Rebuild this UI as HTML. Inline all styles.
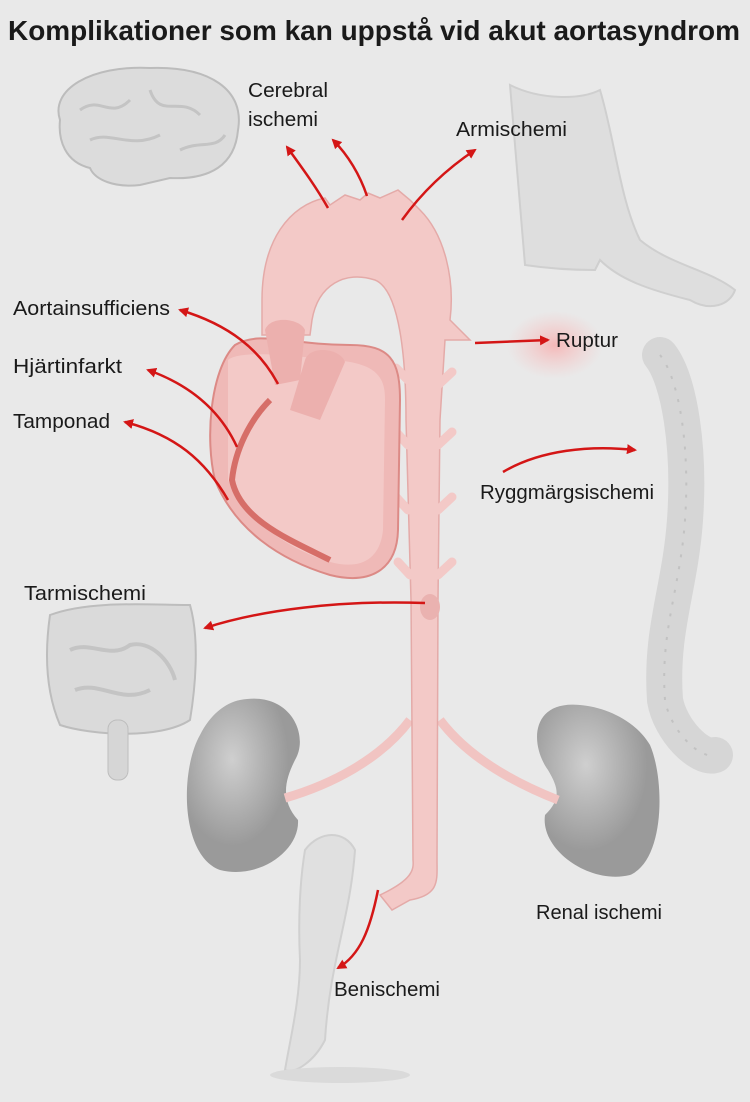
<!DOCTYPE html>
<html><head><meta charset="utf-8"><style>
html,body{margin:0;padding:0;background:#e9e9e9;}
svg{display:block}
text{font-family:"Liberation Sans",sans-serif;fill:#1a1a1a}
</style></head><body>
<svg width="750" height="1102" viewBox="0 0 750 1102" xmlns="http://www.w3.org/2000/svg">
<defs>
<marker id="a" markerWidth="10" markerHeight="10" refX="8" refY="5" orient="auto" markerUnits="userSpaceOnUse">
<path d="M0,0 L10,5 L0,10 Z" fill="#d41616"/></marker>
<radialGradient id="r"><stop offset="0" stop-color="#f5b8b8"/><stop offset="1" stop-color="#f5c8c8" stop-opacity="0"/></radialGradient>
<radialGradient id="k" cx="0.4" cy="0.35"><stop offset="0" stop-color="#cfcfcf"/><stop offset="1" stop-color="#9a9a9a"/></radialGradient>
</defs>
<rect width="750" height="1102" fill="#e9e9e9"/>
<text x="8" y="40" font-size="28" font-weight="bold" textLength="732" lengthAdjust="spacingAndGlyphs">Komplikationer som kan uppstå vid akut aortasyndrom</text>

<path d="M60,120 C50,90 90,65 150,68 C210,66 245,90 238,130 C235,165 210,180 170,178 L140,185 C115,188 95,180 90,168 C65,162 58,140 60,120Z" fill="#dcdcdc" stroke="#bcbcbc" stroke-width="2"/>
<path d="M80,110 C100,95 110,120 130,100 M150,90 C160,120 180,95 200,115 M90,140 C110,130 130,150 160,135 M180,150 C200,140 215,150 225,135" stroke="#c4c4c4" stroke-width="3" fill="none"/>
<path d="M510,85 C540,100 580,100 600,90 C615,140 620,200 640,240 C670,265 710,270 735,290 C730,305 710,312 690,300 C650,290 620,280 600,260 L595,270 C570,270 545,268 525,265 Z" fill="#dedede" stroke="#cfcfcf" stroke-width="2"/>
<path d="M660,355 C680,380 690,450 685,520 C680,590 660,630 665,700 C670,730 700,760 715,755" stroke="#d6d6d6" stroke-width="36" fill="none" stroke-linecap="round"/>
<path d="M660,355 C680,380 690,450 685,520 C680,590 660,630 665,700 C670,730 700,760 715,755" stroke="#c2c2c2" stroke-width="2" stroke-dasharray="3 9" fill="none"/>
<path d="M50,615 C90,600 150,605 190,605 C200,640 195,690 190,720 C160,740 90,735 60,725 C45,690 45,650 50,615Z" fill="#dadada" stroke="#bdbdbd" stroke-width="2"/>
<path d="M70,650 C90,640 110,660 130,645 C150,640 170,660 175,680 M75,690 C100,680 120,705 150,690" stroke="#c4c4c4" stroke-width="4" fill="none"/>
<rect x="108" y="720" width="20" height="60" rx="9" fill="#d6d6d6" stroke="#bdbdbd"/>
<path d="M305,850 C320,830 345,830 355,850 C350,920 330,960 325,1040 C315,1060 295,1075 285,1070 C290,1040 300,1000 300,960 C298,920 300,880 305,850Z" fill="#e0e0e0" stroke="#d0d0d0" stroke-width="2"/>
<ellipse cx="340" cy="1075" rx="70" ry="8" fill="#dadada"/>
<path d="M240,700 C290,690 310,735 295,760 C285,780 280,800 298,820 C300,850 260,880 220,870 C180,855 180,770 200,735 C210,715 225,703 240,700Z" fill="url(#k)"/>
<path d="M580,705 C530,700 530,745 548,770 C560,790 560,800 545,815 C540,850 590,885 630,875 C665,860 665,780 650,745 C635,720 605,707 580,705Z" fill="url(#k)"/>
<path d="M410,720 C380,760 330,785 285,798" stroke="#f1c4c2" stroke-width="9" fill="none"/>
<path d="M440,720 C470,760 520,785 558,800" stroke="#f1c4c2" stroke-width="9" fill="none"/>
<ellipse cx="555" cy="345" rx="48" ry="34" fill="url(#r)"/>
<path d="M262,335 L262,300 C262,240 290,205 325,198 L330,205 L345,195 L360,200 L368,193 L380,198 L398,190 L410,200 L420,210 C445,235 455,280 450,320 L470,340 L445,340 L440,420 L438,600 L437,860 C437,880 440,895 410,900 L392,910 L380,895 C412,880 414,870 413,860 L411,600 L406,420 C406,360 400,290 375,280 C345,270 318,285 312,320 L310,335 Z" fill="#f3c9c7" stroke="#e4aaa8" stroke-width="1.5"/>
<g stroke="#f3c9c7" stroke-width="9" stroke-linecap="round">
<line x1="408" y1="380" x2="396" y2="368"/><line x1="438" y1="385" x2="452" y2="372"/>
<line x1="408" y1="445" x2="396" y2="432"/><line x1="438" y1="445" x2="452" y2="432"/>
<line x1="408" y1="510" x2="396" y2="497"/><line x1="438" y1="510" x2="452" y2="497"/>
<line x1="410" y1="575" x2="398" y2="562"/><line x1="438" y1="575" x2="452" y2="562"/>
</g>
<ellipse cx="430" cy="607" rx="10" ry="13" fill="#eab2b0"/>
<path d="M235,345 C260,330 290,345 350,345 C390,345 400,360 400,400 L398,530 C397,570 370,585 330,575 C280,560 235,530 215,480 C205,440 210,370 235,345Z" fill="#efb9b7" stroke="#dc8a86" stroke-width="2"/>
<path d="M228,360 C240,350 290,355 330,360 C380,362 385,380 385,400 L383,530 C380,560 360,570 330,562 C290,550 245,520 228,480Z" fill="#f3c9c7"/>
<path d="M265,330 C270,315 300,318 305,330 L300,380 L275,385 Z" fill="#ecb0ae"/>
<path d="M305,360 C310,345 340,348 345,362 L320,420 L290,410 Z" fill="#ecb0ae"/>
<path d="M270,400 C250,420 235,450 232,480 C240,520 290,540 330,560" stroke="#d66e68" stroke-width="6" fill="none"/>
<g stroke="#d41616" stroke-width="2.5" fill="none" marker-end="url(#a)">
<path d="M328,208 C315,185 300,165 287,147"/>
<path d="M367,196 C360,175 348,155 333,140"/>
<path d="M402,220 C420,195 445,170 475,150"/>
<path d="M278,384 C260,350 230,325 180,310"/>
<path d="M237,447 C220,410 190,385 148,370"/>
<path d="M228,500 C205,460 175,435 125,422"/>
<path d="M475,343 L548,340"/>
<path d="M503,472 C540,450 590,445 635,450"/>
<path d="M425,603 C340,600 260,610 205,628"/>
<path d="M378,890 C370,930 360,955 338,968"/>
</g>
<g font-size="20">
<text x="248" y="97" textLength="80" lengthAdjust="spacingAndGlyphs">Cerebral</text>
<text x="248" y="126" textLength="70" lengthAdjust="spacingAndGlyphs">ischemi</text>
<text x="456" y="136" textLength="111" lengthAdjust="spacingAndGlyphs">Armischemi</text>
<text x="13" y="315" textLength="157" lengthAdjust="spacingAndGlyphs">Aortainsufficiens</text>
<text x="13" y="373" textLength="109" lengthAdjust="spacingAndGlyphs">Hjärtinfarkt</text>
<text x="13" y="428" textLength="97" lengthAdjust="spacingAndGlyphs">Tamponad</text>
<text x="556" y="347" textLength="62" lengthAdjust="spacingAndGlyphs">Ruptur</text>
<text x="480" y="499" textLength="174" lengthAdjust="spacingAndGlyphs">Ryggmärgsischemi</text>
<text x="24" y="600" textLength="122" lengthAdjust="spacingAndGlyphs">Tarmischemi</text>
<text x="536" y="919" textLength="126" lengthAdjust="spacingAndGlyphs">Renal ischemi</text>
<text x="334" y="996" textLength="106" lengthAdjust="spacingAndGlyphs">Benischemi</text>
</g>
</svg>
</body></html>
